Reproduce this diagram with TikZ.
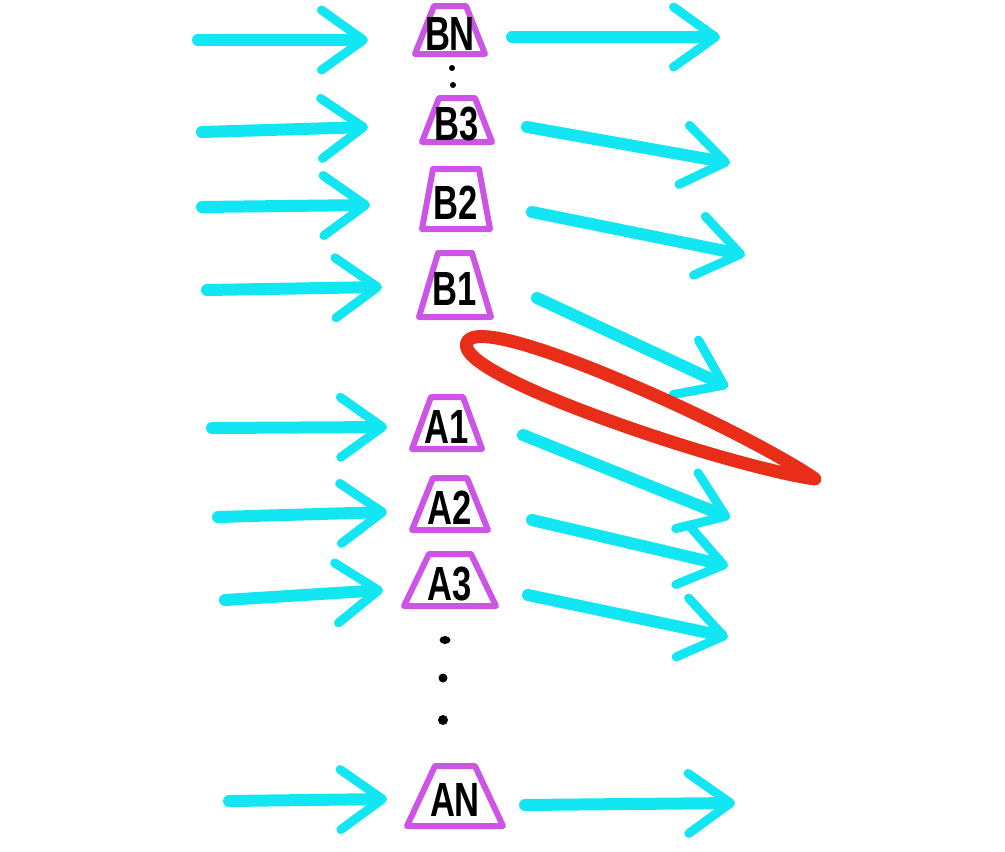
\documentclass[tikz,border=0pt]{standalone}
\usepackage{fontspec}
\usepackage{graphicx}
\setmainfont{Liberation Sans}
\usetikzlibrary{arrows.meta}
\definecolor{crayoncyan}{RGB}{18,230,242}
\definecolor{crayonmag}{RGB}{205,85,230}
\definecolor{crayonred}{RGB}{232,45,25}
\newcommand\trapbox[7]{%
  \draw[trapline] (#2-#4,#3-#6) -- (#2+#4,#3-#6) -- (#2+#5,#3+#6) -- (#2-#5,#3+#6) -- cycle;
  \node[lbl] (#1) at (#2,#3+4) {\scalebox{0.72}[1]{#7}};}
\begin{document}
\begin{tikzpicture}[x=1pt,y=-1pt,
  flow/.style={draw=crayoncyan, line width=12pt, line cap=round,
    -{Straight Barb[length=42pt,width=60pt,line width=9pt,round]}},
  trapline/.style={draw=crayonmag, line width=6pt, line join=round},
  lbl/.style={inner sep=0pt, text=black, font=\bfseries\fontsize{48}{48}\selectfont},
  dotmark/.style={fill=black},
  loop/.style={draw=crayonred, line width=13pt, line join=round, line cap=round}]
\path[use as bounding box, fill=white] (0,0) rectangle (1005,852);

% boxes
\trapbox{BN}{450}{30}{16}{35}{24}{BN}
\trapbox{B3}{457}{120}{18}{35}{22}{B3}
\trapbox{B2}{456}{199}{23}{34}{30}{B2}
\trapbox{B1}{455}{285}{17}{36}{32}{B1}
\trapbox{A1}{447}{423}{16}{35}{26}{A1}
\trapbox{A2}{450}{504}{17}{38}{26}{A2}
\trapbox{A3}{450}{580}{21}{46}{26}{A3}
\trapbox{AN}{455}{796}{20}{48}{30}{AN}

% dots
\fill[dotmark] (452,68) circle (3);
\fill[dotmark] (453,85) circle (3);
\fill[dotmark] (445,640) ellipse (5.5 and 4);
\fill[dotmark] (443,678) circle (4.5);
\fill[dotmark] (443,720) circle (5);

% incoming arrows
\foreach \n/\ax/\ay/\bx/\by in {BN/198/40/368/40, B3/202/132/368/127, B2/202/207/370/205,
    B1/207/290/382/287, A1/212/428/387/427, A2/218/517/387/512, A3/225/600/383/590,
    AN/229/801/387/799}{
  \coordinate (in\n) at (\ax,\ay);
  \coordinate (in\n-t) at (\bx,\by);
  \draw[flow] (in\n) -- (in\n-t);
}
% outgoing arrows
\foreach \n/\ax/\ay/\bx/\by in {BN/512/37/720/37, B3/527/127/730/163, B2/532/212/745/255,
    B1/537/298/728/387, A1/523/435/730/518, A2/532/520/728/566, A3/528/595/728/637,
    AN/525/805/735/803}{
  \coordinate (out\n) at (\ax,\ay);
  \coordinate (out\n-t) at (\bx,\by);
  \draw[flow] (out\n) -- (out\n-t);
}

% red loop
\begin{scope}[shift={(639,410)}, rotate=-21.4]
  \draw[loop] (-185,0) .. controls (-185,-20) and (-100,-24) .. (0,-20)
    .. controls (100,-16) and (170,-5) .. (189,0)
    .. controls (170,5) and (100,16) .. (0,20)
    .. controls (-100,24) and (-185,20) .. (-185,0) -- cycle;
\end{scope}
\end{tikzpicture}
\end{document}
